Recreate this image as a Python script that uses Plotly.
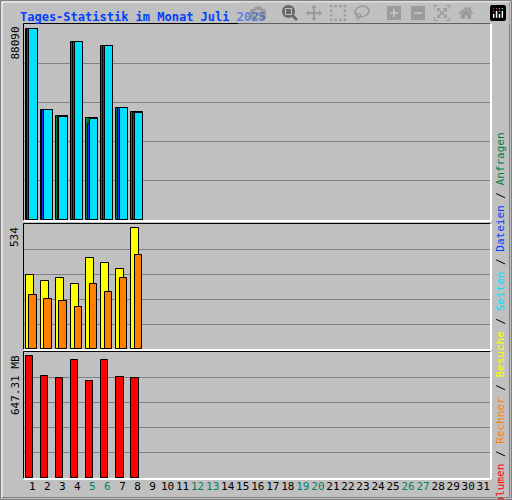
import plotly.graph_objects as go

days = list(range(1, 32))
weekend = [5, 6, 12, 13, 19, 20, 26, 27]
data_days = [1, 2, 3, 4, 5, 6, 7, 8]
hits = [88090, 50730, 48100, 82090, 47100, 80250, 51650, 49700]
files = [87900, 50600, 47800, 81900, 44400, 80100, 51500, 49500]
pages = [88090, 50730, 47500, 82090, 46580, 80250, 51650, 49350]
visits = [327, 301, 314, 288, 403, 380, 354, 534]
hosts = [239, 221, 212, 186, 288, 252, 314, 416]
volume = [647.31, 538, 528, 626, 511, 626, 533, 528]

W, H = 512, 500
BG = "#C0C0C0"
FONT = "DejaVu Sans Mono"

fig = go.Figure()

def bar(y, color, off, w, ax):
    fig.add_trace(go.Bar(x=data_days, y=y, offset=off, width=w, marker=dict(color=color, line=dict(color="black", width=1)),
                         xaxis="x", yaxis=ax, showlegend=False, hoverinfo="skip"))

bar(hits, "#008040", -0.45, 0.82, "y")
bar(files, "#0040FF", -0.32, 0.69, "y")
bar(pages, "#00E0FF", -0.19, 0.56, "y")
bar(visits, "#FFFF00", -0.45, 0.58, "y2")
bar(hosts, "#FF8000", -0.19, 0.52, "y2")
bar(volume, "#FF0000", -0.45, 0.52, "y3")

def py(p):
    return 1 - p / H

r1 = max(hits) * 196 / 191
r2 = max(visits) * 125 / 120.7
r3 = max(volume) * 126 / 122.5
common = dict(showticklabels=False, gridcolor="#808080", gridwidth=1, zeroline=False, showline=False, fixedrange=True)
fig.update_layout(
    width=W, height=H, margin=dict(l=0, r=0, t=0, b=0), autosize=False,
    paper_bgcolor=BG, plot_bgcolor=BG, barmode="overlay", bargap=0,
    font=dict(family=FONT, size=11, color="black"),
    xaxis=dict(domain=[24 / W, 490 / W], range=[0.45, 31.45], tickvals=days, tickangle=0, automargin=False,
               ticktext=[f"<span style='color:#008060'>{d}</span>" if d in weekend else str(d) for d in days],
               showgrid=False, zeroline=False, ticks="", anchor="y3", tickfont=dict(size=11, family=FONT)),
    yaxis=dict(domain=[py(220), py(24)], range=[0, r1], tickvals=[r1 * k / 5 for k in range(1, 5)], anchor="x", **common),
    yaxis2=dict(domain=[py(349), py(224)], range=[0, r2], tickvals=[r2 * k / 5 for k in range(1, 5)], anchor="x", **common),
    yaxis3=dict(domain=[py(478), py(352)], range=[0, r3], tickvals=[r3 * k / 5 for k in range(1, 5)], anchor="x", **common),
)

shapes = []
def line(x0, y0, x1, y1, c, w=1):
    shapes.append(dict(type="line", xref="paper", yref="paper", x0=x0 / W, y0=py(y0), x1=x1 / W, y1=py(y1), line=dict(color=c, width=w)))
line(0.5, 0.5, 511.5, 0.5, "#808080"); line(0.5, 0.5, 0.5, 499.5, "#808080")
line(511.5, 0.5, 511.5, 499.5, "#808080"); line(0.5, 499.5, 511.5, 499.5, "#808080")
line(2, 2, 510, 2, "white"); line(2, 2, 2, 498, "white")
line(509.5, 2, 509.5, 498, "#808080"); line(2, 497.5, 509.5, 497.5, "#808080")
for t, b in [(24, 220), (224, 349), (352, 478)]:
    line(23.5, t - 0.5, 490.5, t - 0.5, "black"); line(23.5, t - 0.5, 23.5, b + 0.5, "black")
    line(23.5, b + 1, 491, b + 1, "white", 2); line(491, t - 0.5, 491, b + 1, "white", 2)
fig.update_layout(shapes=shapes)

ann = [
    dict(text="<b>Tages-Statistik im Monat Juli 2025</b>", x=18 / W, y=py(8), xanchor="left", yanchor="top",
         font=dict(color="#0040FF", size=12, family=FONT)),
    dict(text="88090", x=15 / W, y=py(25), textangle=-90, xanchor="center", yanchor="top"),
    dict(text="534", x=15 / W, y=py(225), textangle=-90, xanchor="center", yanchor="top"),
    dict(text="647.31 MB", x=15 / W, y=py(353), textangle=-90, xanchor="center", yanchor="top"),
    dict(text="<span style='color:#FF0000'>Volumen</span> / <span style='color:#FF8000'>Rechner</span> / "
              "<span style='color:#FFFF00'>Besuche</span> / <span style='color:#00E0FF'>Seiten</span> / "
              "<span style='color:#0040FF'>Dateien</span> / <span style='color:#008040'>Anfragen</span>",
         x=500 / W, y=py(321), textangle=-90, xanchor="center", yanchor="middle"),
]
for a in ann:
    a.update(xref="paper", yref="paper", showarrow=False)
    a.setdefault("font", dict(size=11, family=FONT, color="black"))
fig.update_layout(annotations=ann)

fig.write_html("out.html", post_script="document.body.style.margin='0';document.body.style.padding='0';")
